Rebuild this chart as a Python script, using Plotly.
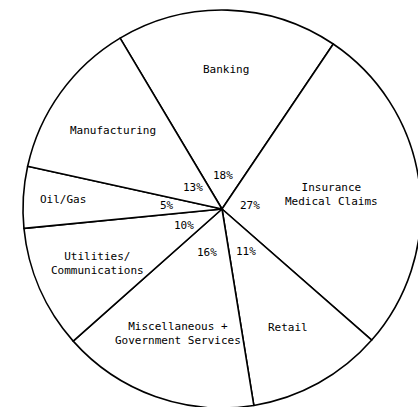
import math
import plotly.graph_objects as go

sectors = ['Banking', 'Insurance<br>Medical Claims', 'Retail',
           'Miscellaneous +<br>Government Services', 'Utilities/<br>Communications',
           'Oil/Gas', 'Manufacturing']
shares = [18, 27, 11, 16, 10, 5, 13]

# the scanned pie runs slightly past the right/bottom edge, so the figure
# is a bit bigger than the window and the page overflow is hidden
W, H = 444, 418
cx, cy, R = 222, 209, 199
start = -30.8

# label distances from the centre, in pixels
name_r = [140, 110, 136, 132, 136, 159, 134]
pct_r = [34, 28, 49, 46, 42, 55, 36]

fig = go.Figure()
fig.add_trace(go.Pie(labels=sectors, values=shares, sort=False,
                     direction='clockwise', rotation=start,
                     textinfo='none', hoverinfo='label+percent',
                     marker=dict(colors=['white'] * len(shares),
                                 line=dict(color='black', width=1.6)),
                     domain=dict(x=[(cx - R) / W, (cx + R) / W],
                                 y=[1 - (cy + R) / H, 1 - (cy - R) / H]),
                     showlegend=False))

font = dict(family='DejaVu Sans Mono', size=11, color='black')
total = sum(shares)
acc = 0
for name, v, rn, rp in zip(sectors, shares, name_r, pct_r):
    mid = math.radians(start + (acc + v / 2) / total * 360)
    acc += v
    for txt, r in ((name, rn), ('%d%%' % v, rp)):
        fig.add_annotation(x=(cx + r * math.sin(mid)) / W,
                           y=1 - (cy - r * math.cos(mid)) / H,
                           xref='paper', yref='paper', text=txt,
                           showarrow=False, font=font,
                           xanchor='center', yanchor='middle')

fig.update_layout(width=W, height=H, margin=dict(l=0, r=0, t=0, b=0),
                  paper_bgcolor='white', plot_bgcolor='white')

fig.write_html("out.html", config={'displayModeBar': False},
               post_script="document.body.style.margin='0';"
                           "document.body.style.overflow='hidden';"
                           "document.documentElement.style.overflow='hidden';")
